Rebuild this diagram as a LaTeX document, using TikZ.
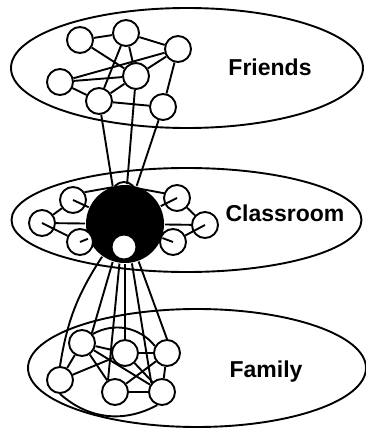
\documentclass[tikz,border=0pt]{standalone}
\usepackage{fontspec}
\setmainfont{Liberation Sans}
\tikzset{pers/.style = {draw, circle, fill = white, inner sep = 0, minimum size = 26}}
\tikzset{child/.style = {fill, circle, inner sep = 0, minimum size = 78}}
\tikzset{group/.style = {font = \fontsize{23}{28}\selectfont\bfseries, anchor = base}}

\begin{document}
\begin{tikzpicture}[x = 1pt, y = 1pt, line width = 1.9pt]
      \useasboundingbox (0, 0) rectangle (366, 429);

      \draw (187, 361) ellipse [x radius = 176pt, y radius = 60pt];
      \draw (186.5, 209) ellipse [x radius = 175pt, y radius = 52pt];
      \draw (197, 61) ellipse [x radius = 169pt, y radius = 59pt];

      \node [group] (friends) at (270, 353) {Friends};
      \node [group] (classroom) at (285, 207) {Classroom};
      \node [group] (family) at (266, 52) {Family};

      \node [draw, circle, inner sep = 0, minimum size = 24] (top) at (124, 235) {};
      \node [child] (kid) at (125, 205) {};
      \node [pers, minimum size = 25] (self) at (124, 182) {};

      \node [pers] (fr1) at (80, 389) {};
      \node [pers] (fr2) at (126, 396) {};
      \node [pers] (fr3) at (178, 380) {};
      \node [pers] (fr4) at (60, 347) {};
      \node [pers] (fr5) at (136, 353) {};
      \node [pers] (fr6) at (99, 328) {};
      \node [pers] (fr7) at (163, 322) {};

      \node [pers] (cl1) at (73, 229) {};
      \node [pers] (cl2) at (42, 206) {};
      \node [pers] (cl3) at (80, 187) {};
      \node [pers] (cl4) at (177, 231) {};
      \node [pers] (cl5) at (205, 204) {};
      \node [pers] (cl6) at (173, 187) {};

      \node [pers] (fa1) at (82, 86) {};
      \node [pers] (fa2) at (125, 76) {};
      \node [pers] (fa3) at (167, 76) {};
      \node [pers] (fa4) at (60, 49) {};
      \node [pers] (fa5) at (115, 37) {};
      \node [pers] (fa6) at (162, 37) {};

      \draw (fr1) -- (fr2);
      \draw (fr1) -- (fr5);
      \draw (fr2) -- (fr3);
      \draw (fr2) -- (fr6);
      \draw (fr2) -- (fr5);
      \draw (fr3) -- (fr4);
      \draw (fr3) -- (fr5);
      \draw (fr3) -- (fr7);
      \draw (fr4) -- (fr5);
      \draw (fr4) -- (fr6);
      \draw (fr6) -- (fr5);
      \draw (fr6) -- (fr7);

      \draw (fr6) -- (kid.108);
      \draw (fr5) -- (kid.87);
      \draw (fr7) -- (kid.73);

      \draw (cl1) -- (cl2);
      \draw (cl2.center) -- (cl3);
      \draw (cl4) -- (cl5);
      \draw (cl5.center) -- (cl6);
      \draw (cl1.34) -- (top.148);
      \draw (top.28) -- (cl4.160);
      \draw (cl1.center) -- (kid);
      \draw (cl2) -- (kid);
      \draw (cl3.center) -- (kid);
      \draw (cl4.center) -- (kid);
      \draw (cl5) -- (kid);
      \draw (cl6.center) -- (kid);

      \draw (kid.235) to [bend right = 12] (fa4.north);
      \draw (kid.252) -- (fa1.45);
      \draw (kid.262) -- (fa5.120);
      \draw (kid.270) -- (fa2.north);
      \draw (kid.280) -- (fa6.140);
      \draw (kid.290) -- (fa3.north);

      \draw (fa1) -- (fa2);
      \draw (fa1) -- (fa4);
      \draw (fa4) -- (fa2);
      \draw (fa1) -- (fa6);
      \draw (fa1) -- (fa5);
      \draw (fa2) -- (fa3);
      \draw (fa2) -- (fa6);
      \draw (fa3) -- (fa5);
      \draw (fa3) -- (fa6);
      \draw (fa5) -- (fa6);
      \draw (fa1.40) to [bend left = 40] (fa3.150);
      \draw (fa4.south) to [bend right = 35] (fa6.250);
\end{tikzpicture}
\end{document}
